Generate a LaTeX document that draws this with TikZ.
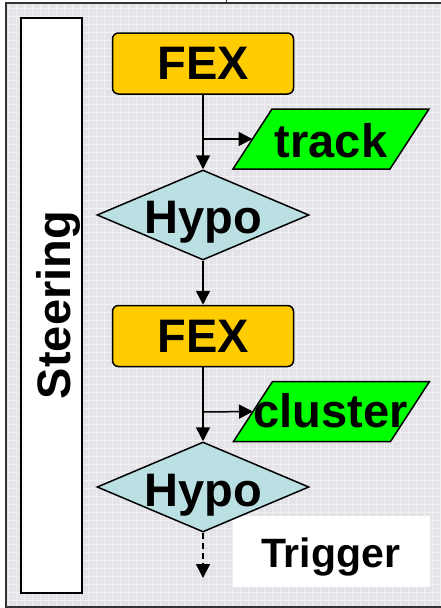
\documentclass[tikz,border=0pt]{standalone}
\usepackage{fontspec}
\setmainfont{Liberation Sans}
\usetikzlibrary{shapes.geometric,arrows.meta}
\definecolor{fexfill}{RGB}{255,204,0}
\definecolor{datafill}{RGB}{0,255,0}
\definecolor{hypofill}{RGB}{186,224,227}
\definecolor{bgfill}{RGB}{228,228,232}
\begin{document}
\begin{tikzpicture}[x=1pt,y=-1pt,
  bigfont/.style={font=\fontsize{47}{47}\selectfont\bfseries},
  fexbox/.style={draw, line width=1.5pt, fill=fexfill, rounded corners=6pt,
    minimum width=181pt, minimum height=61pt, inner sep=0pt, bigfont},
  hypobox/.style={draw, line width=1.5pt, fill=hypofill, shape=diamond,
    minimum width=212pt, minimum height=90pt, inner sep=0pt},
  datacore/.style={minimum width=157pt, minimum height=60pt, inner sep=0pt, outer sep=0pt},
  datashape/.style={draw, line width=1.5pt, fill=datafill, line join=miter},
  lbl/.style={bigfont, inner sep=0pt, anchor=base},
  flow/.style={line width=1.5pt, -{Triangle[length=14pt,width=14pt]}},
  gridline/.style={white, line width=0.7pt, opacity=0.5},
  frameline/.style={line width=1.5pt, black!80},
]
\useasboundingbox (0,0) rectangle (441,608);
% background
\fill[white] (0,0) rectangle (441,608);
\fill[bgfill] (6,3) rectangle (441,607);
\draw[gridline, step=8pt] (6,3) grid (441,607);
\draw[frameline] (441,3) -- (6,3) -- (6,607) -- (441,607);
\draw[line width=1pt, black!80] (226,0) -- (226,3);

% steering
\node[draw, fill=white, line width=1.5pt, minimum width=61pt, minimum height=575pt, inner sep=0pt] (steer) at (51.5,305.5) {};
\node[lbl, rotate=90] (steertxt) at (70,305) {Steering};

% trigger label (behind the diamond)
\node[fill=white, minimum width=197pt, minimum height=71pt, inner sep=0pt] (trigbox) at (331.5,551.5) {};
\node[anchor=base, inner sep=0pt, font=\fontsize{41}{41}\selectfont\bfseries] (trigtxt) at (330.5,567) {Trigger};

% flow nodes
\node[fexbox] (fex1) at (203,63.5) {FEX};
\node[datacore] (track) at (331,139) {};
\draw[datashape] ([xshift=-19.5pt]track.south west) -- ([xshift=19.5pt]track.north west)
  -- ([xshift=19.5pt]track.north east) -- ([xshift=-19.5pt]track.south east) -- cycle;
\node[lbl] (tracktxt) at (331,157) {track};
\node[hypobox] (hypo1) at (203,215) {};
\node[lbl] (hypo1txt) at (203.5,233) {Hypo};
\node[fexbox] (fex2) at (203,336) {FEX};
\node[datacore] (cluster) at (331.5,411.5) {};
\draw[datashape] ([xshift=-19.5pt]cluster.south west) -- ([xshift=19.5pt]cluster.north west)
  -- ([xshift=19.5pt]cluster.north east) -- ([xshift=-19.5pt]cluster.south east) -- cycle;
\node[lbl] (clustertxt) at (330.5,427) {cluster};
\node[hypobox] (hypo2) at (203,487) {};
\node[lbl] (hypo2txt) at (203.5,506) {Hypo};

% connectors
\coordinate (b1) at (203,139);
\coordinate (b2) at (203,412);
\coordinate (tail) at (203,578);
\draw[flow] (fex1.south) -- (hypo1.north);
\draw[flow] (b1) -- (track.west);
\draw[flow] (hypo1.south) -- (fex2.north);
\draw[flow] (fex2.south) -- (hypo2.north);
\draw[flow] (b2) -- (cluster.west);
\draw[flow, dash pattern=on 6pt off 4pt] (hypo2.south) -- (tail);
\end{tikzpicture}
\end{document}
